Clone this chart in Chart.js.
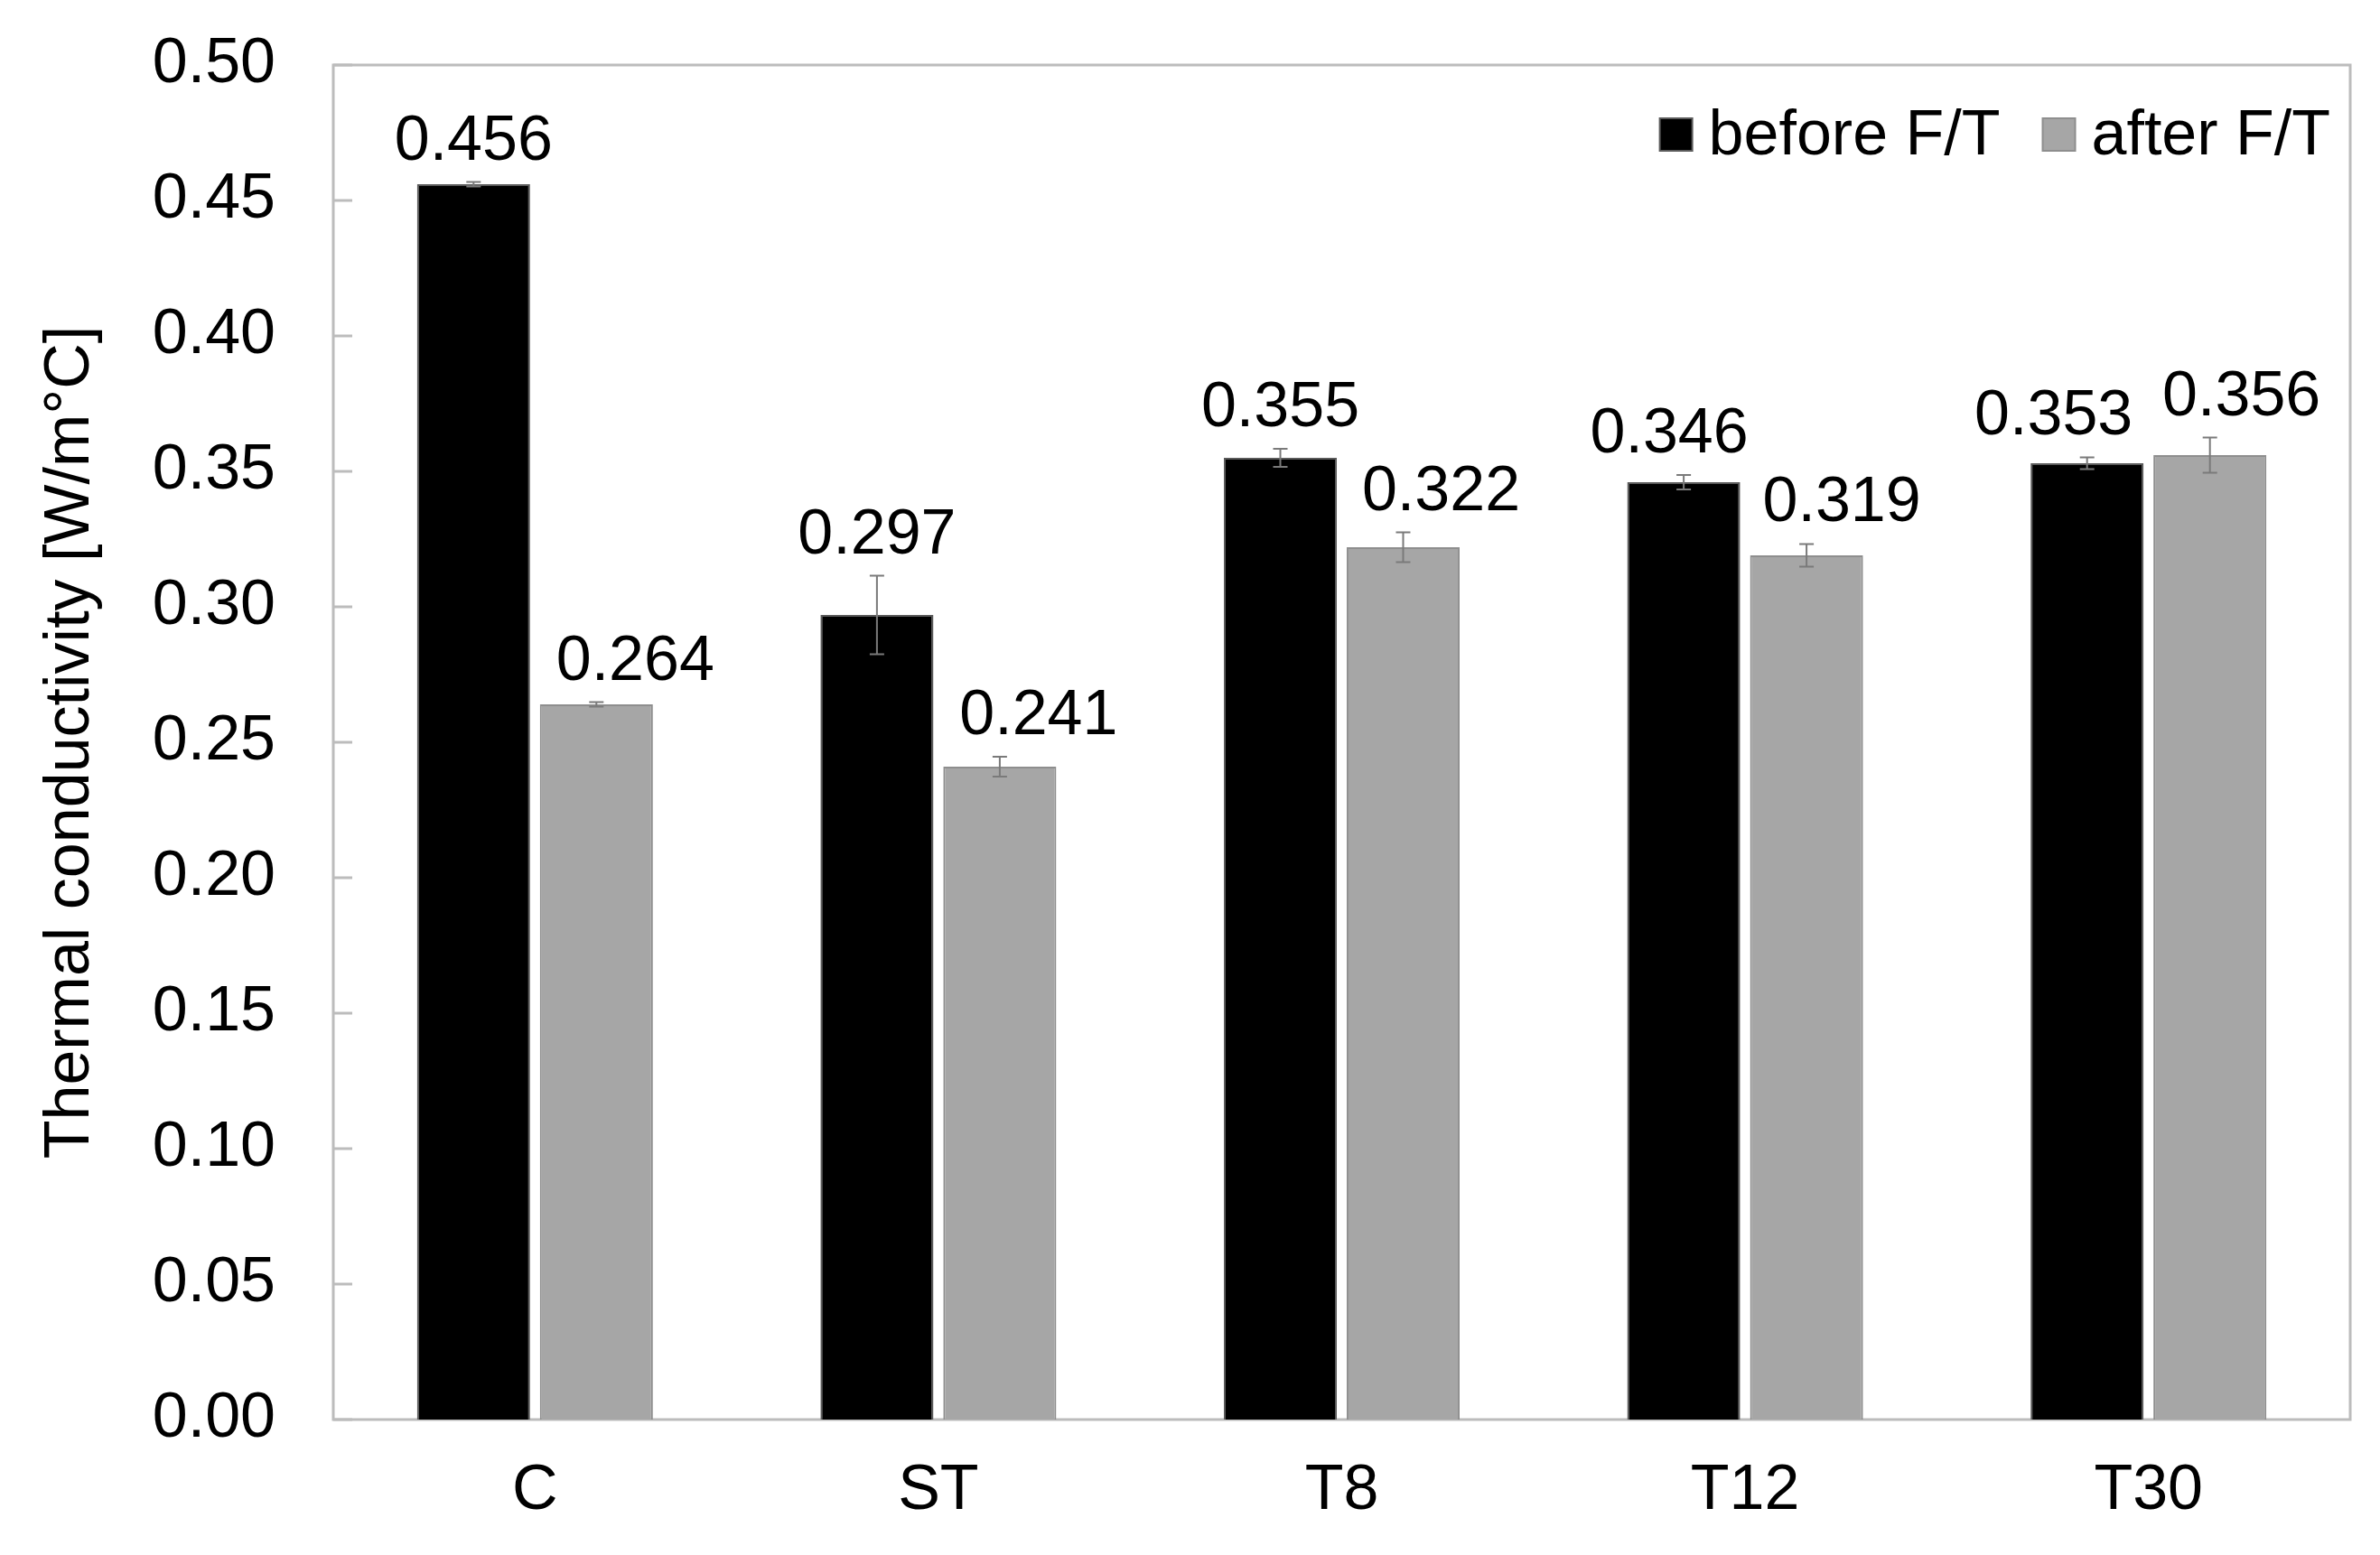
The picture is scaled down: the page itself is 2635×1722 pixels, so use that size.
<!DOCTYPE html>
<html>
<head>
<meta charset="utf-8">
<title>Thermal conductivity</title>
<script src="https://cdn.jsdelivr.net/npm/chart.js@4.4.1/dist/chart.umd.min.js"></script>
<style>
    html, body { margin: 0; padding: 0; background: #fff; }
    #wrap { width: 2635px; height: 1722px; }
</style>
</head>
<body>
<div id="wrap"><canvas id="chart"></canvas></div>
<script>
/* =================================
  data
==================================== */
const categories = ['C', 'ST', 'T8', 'T12', 'T30'];
const beforeValues = [0.456, 0.297, 0.355, 0.346, 0.353];
const afterValues = [0.264, 0.241, 0.322, 0.319, 0.356];
const beforeErrors = [0.0008, 0.0145, 0.0033, 0.0027, 0.0022];
const afterErrors = [0.0008, 0.0037, 0.0055, 0.0042, 0.0065];
const yTicks = [0.00, 0.05, 0.10, 0.15, 0.20, 0.25, 0.30, 0.35, 0.40, 0.45, 0.50];

/* =================================
  styles
==================================== */
const fontFamily = '"Liberation Sans", Arial, sans-serif';
const fontSize = 70;
const frameColor = '#bcbcbc';
// sideways nudge of the value labels, px (as placed in the original figure)
const labelShift = [[0, 0, 0, -16, -37], [43, 43, 42, 39, 35]];

/* =================================
  plugin: frame, inner ticks, legend, error bars, value labels
==================================== */
const decorations = {
    id: 'decorations',
    beforeDatasetsDraw(chart) {
        const ctx = chart.ctx;
        const area = chart.chartArea;
        const y = chart.scales.y;
        ctx.save();
        ctx.strokeStyle = frameColor;
        ctx.lineWidth = 3;
        ctx.strokeRect(area.left, area.top, area.right - area.left, area.bottom - area.top);
        yTicks.forEach((v) => {
            const py = Math.round(y.getPixelForValue(v));
            ctx.beginPath();
            ctx.moveTo(area.left, py);
            ctx.lineTo(area.left + 21, py);
            ctx.stroke();
        });
        ctx.restore();
    },
    afterDatasetsDraw(chart) {
        const ctx = chart.ctx;
        const y = chart.scales.y;
        const area = chart.chartArea;
        ctx.save();
        ctx.font = fontSize + 'px ' + fontFamily;
        chart.data.datasets.forEach((ds, di) => {
            const meta = chart.getDatasetMeta(di);
            meta.data.forEach((bar, i) => {
                const v = ds.data[i];
                const e = ds.errors[i];
                const top = y.getPixelForValue(v + e);
                const bot = y.getPixelForValue(v - e);
                // error bar
                ctx.strokeStyle = '#7a7a7a';
                ctx.lineWidth = 2;
                ctx.beginPath();
                ctx.moveTo(bar.x, top);
                ctx.lineTo(bar.x, bot);
                ctx.moveTo(bar.x - 8, top);
                ctx.lineTo(bar.x + 8, top);
                ctx.moveTo(bar.x - 8, bot);
                ctx.lineTo(bar.x + 8, bot);
                ctx.stroke();
                // value label
                ctx.fillStyle = '#000';
                ctx.textAlign = 'center';
                ctx.textBaseline = 'alphabetic';
                ctx.fillText(v.toFixed(3), bar.x + labelShift[di][i], top - 25);
            });
        });

        // legend, top right inside the frame
        const legendY = area.top + 77;
        let x = area.right - 22;
        ctx.textAlign = 'left';
        ctx.textBaseline = 'middle';
        for (let di = chart.data.datasets.length - 1; di >= 0; di--) {
            const ds = chart.data.datasets[di];
            const w = ctx.measureText(ds.label).width;
            x -= w;
            ctx.fillStyle = '#000';
            ctx.fillText(ds.label, x, legendY + 3);
            x -= 18 + 36;
            ctx.fillStyle = ds.backgroundColor;
            ctx.fillRect(x, legendY - 18, 36, 36);
            ctx.strokeStyle = ds.borderColor;
            ctx.lineWidth = 2;
            ctx.strokeRect(x, legendY - 18, 36, 36);
            x -= 47;
        }
        ctx.restore();
    }
};

/* =================================
  chart
==================================== */
const chartData = {
    labels: categories,
    datasets: [{
        label: 'before F/T',
        data: beforeValues,
        errors: beforeErrors,
        backgroundColor: '#000000',
        borderColor: '#5a5a5a',
        borderWidth: 2
    }, {
        label: 'after F/T',
        data: afterValues,
        errors: afterErrors,
        backgroundColor: '#a6a6a6',
        borderColor: '#8e8e8e',
        borderWidth: 2
    }]
};

const chartOptions = {
    responsive: true,
    maintainAspectRatio: false,
    devicePixelRatio: 1,
    animation: false,
    layout: {
        padding: { left: 0, right: 33, top: 72, bottom: 0 }
    },
    datasets: {
        bar: {
            categoryPercentage: 0.609,
            barPercentage: 0.92
        }
    },
    scales: {
        x: {
            grid: { display: false, drawTicks: false },
            border: { display: false },
            ticks: {
                color: '#000',
                padding: 38,
                font: { family: fontFamily, size: fontSize }
            },
            afterFit(scale) {
                scale.height = 150;
                scale.paddingLeft = 0;
                scale.paddingRight = 0;
            }
        },
        y: {
            min: 0,
            max: 0.5,
            grid: { display: false, drawTicks: false },
            border: { display: false },
            afterBuildTicks(scale) {
                scale.ticks = yTicks.map((v) => ({ value: v }));
            },
            ticks: {
                color: '#000',
                padding: 64,
                font: { family: fontFamily, size: fontSize },
                callback: (v) => Number(v).toFixed(2)
            },
            title: {
                display: true,
                text: 'Thermal conductivity [W/m°C]',
                color: '#000',
                padding: { top: 37, bottom: 0 },
                font: { family: fontFamily, size: fontSize }
            },
            afterFit(scale) {
                scale.width = 369;
                scale.paddingTop = 0;
                scale.paddingBottom = 0;
            }
        }
    },
    plugins: {
        legend: { display: false },
        tooltip: { enabled: false }
    }
};

const thermalChart = new Chart(document.getElementById('chart'), {
    type: 'bar',
    data: chartData,
    options: chartOptions,
    plugins: [decorations]
});
</script>
</body>
</html>
